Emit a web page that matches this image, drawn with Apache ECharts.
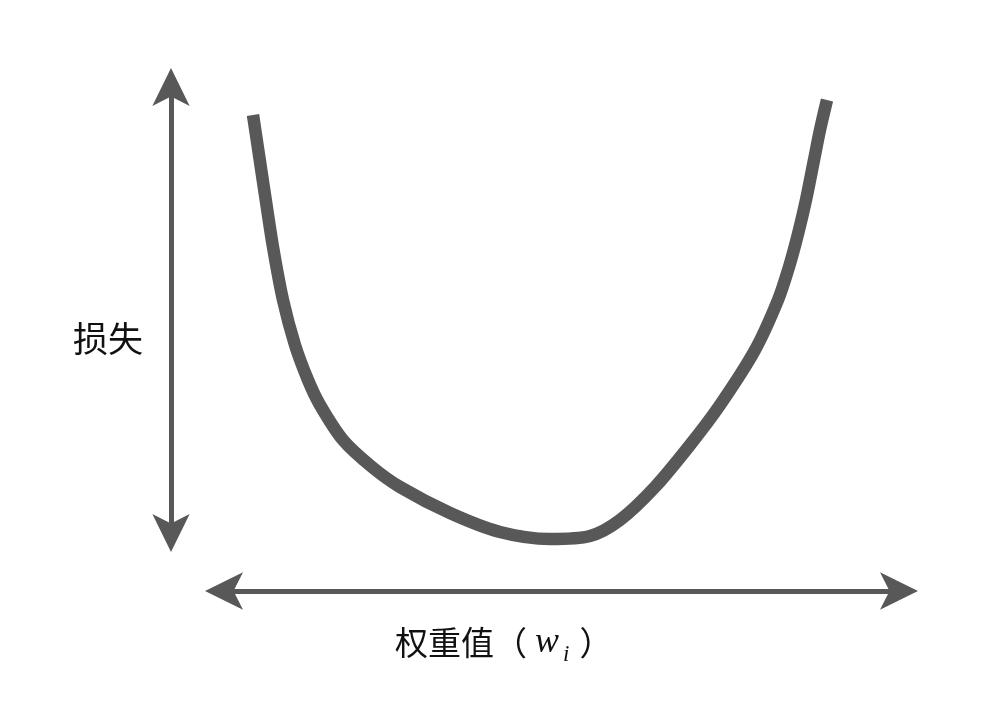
<!DOCTYPE html>
<html>
<head>
<meta charset="utf-8">
<script src="https://cdn.jsdelivr.net/npm/echarts@6/dist/echarts.min.js"></script>
<style>html,body{margin:0;padding:0;background:#fff;}#c{width:1008px;height:724px;}</style>
</head>
<body>
<div id="c"></div>
<script>
// Weight values (horizontal position) and loss values
const weights = [253, 259, 265, 273, 283, 295, 308, 320, 343, 372, 400, 450, 500, 550, 590, 620, 655, 690, 720, 755, 778, 789, 798, 806, 814, 820, 827];
const losses  = [609, 569, 529, 477, 424, 379, 344, 319, 284, 257, 237, 211, 192, 185, 188, 204, 237, 279, 319, 374, 424, 457, 490, 524, 564, 594, 624];
const yLabel = '损失';
const xLabelParts = ['权重值（', 'w', 'i', '）'];

const curve = weights.map((w, i) => [w, losses[i]]);
const dark = '#585858';

const chart = echarts.init(document.getElementById('c'), null, {renderer: 'canvas'});
chart.setOption({
  backgroundColor: '#ffffff',
  animation: false,
  title: [
    {
      text: yLabel, left: 68, top: 316,
      textStyle: {fontFamily: 'Noto Sans CJK SC', fontSize: 35, fontWeight: 'normal', color: '#111'}
    },
    {
      text: '{cn|' + xLabelParts[0] + '}{w|' + xLabelParts[1] + '}{i|' + xLabelParts[2] + '}{cn|' + xLabelParts[3] + '}',
      left: 390, top: 614,
      textStyle: {
        fontWeight: 'normal',
        rich: {
          cn: {fontFamily: 'Noto Sans CJK SC', fontSize: 33, fontWeight: 'normal', color: '#111'},
          w: {fontFamily: 'Liberation Serif', fontStyle: 'italic', fontWeight: 'normal', fontSize: 36, color: '#111', padding: [0, 0, 0, 8]},
          i: {fontFamily: 'Liberation Serif', fontStyle: 'italic', fontWeight: 'normal', fontSize: 23, color: '#111', padding: [24, 10, 0, 4]}
        }
      }
    }
  ],
  grid: [
    {left: 0, right: 0, top: 0, bottom: 0},
    {left: 171, right: 700, top: 76, bottom: 180},
    {left: 213, right: 98, top: 100, bottom: 133}
  ],
  xAxis: [
    {gridIndex: 0, type: 'value', min: 0, max: 1008, show: false},
    {gridIndex: 1, type: 'value', min: 0, max: 1, show: false},
    {gridIndex: 2, type: 'value', min: 0, max: 1, position: 'bottom',
      axisLine: {show: true, symbol: ['arrow', 'arrow'], symbolSize: [28, 38], symbolOffset: [-8, 8], lineStyle: {color: dark, width: 5}},
      axisTick: {show: false}, axisLabel: {show: false}, splitLine: {show: false}}
  ],
  yAxis: [
    {gridIndex: 0, type: 'value', min: 0, max: 724, show: false},
    {gridIndex: 1, type: 'value', min: 0, max: 1, position: 'left',
      axisLine: {show: true, symbol: ['arrow', 'arrow'], symbolSize: [28, 38], symbolOffset: [-8, 8], lineStyle: {color: dark, width: 5}},
      axisTick: {show: false}, axisLabel: {show: false}, splitLine: {show: false}},
    {gridIndex: 2, type: 'value', min: 0, max: 1, show: false}
  ],
  series: [
    {
      type: 'line', xAxisIndex: 0, yAxisIndex: 0, data: curve,
      smooth: 0.3, symbol: 'none',
      lineStyle: {color: dark, width: 12.5, cap: 'butt', join: 'round'}
    }
  ]
});
</script>
</body>
</html>
